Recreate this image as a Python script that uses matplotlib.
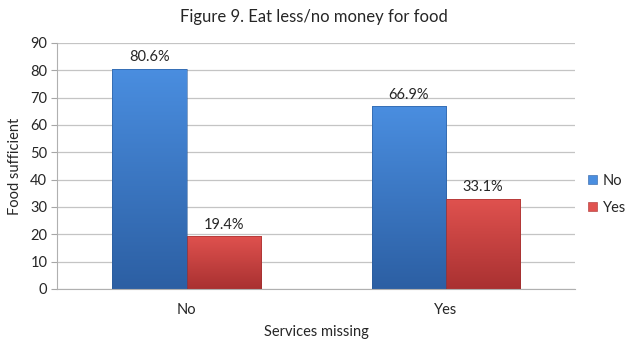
import matplotlib.pyplot as plt
import numpy as np
from matplotlib.colors import LinearSegmentedColormap
from matplotlib.patches import Patch

plt.rcParams["font.family"] = ["Lato", "DejaVu Sans"]

categories = ["No", "Yes"]
series_names = ["No", "Yes"]
no_values = [80.6, 66.9]
yes_values = [19.4, 33.1]

TEXT = "#262626"
colors = {"No": ("#4a8ee0", "#2c5fa3"), "Yes": ("#e0524f", "#a93131")}


def gradient_bars(ax, bars, top, bottom):
    cmap = LinearSegmentedColormap.from_list("g", [bottom, top])
    grad = np.linspace(0, 1, 256).reshape(-1, 1)
    for bar in bars:
        x, y = bar.get_x(), bar.get_y()
        w, h = bar.get_width(), bar.get_height()
        bar.set_facecolor("none")
        im = ax.imshow(grad, cmap=cmap, aspect="auto", origin="lower",
                       extent=(x, x + w, y, y + h), zorder=2)
        im.set_clip_path(bar)


fig = plt.figure(figsize=(6.28, 3.41), dpi=100)
ax = fig.add_axes([0.0908, 0.1525, 0.825, 0.7215])

x = np.arange(len(categories))
width = 0.286
bars_no = ax.bar(x - width / 2, no_values, width, zorder=3,
                 edgecolor="#2a5a98", linewidth=0.4, label="No")
bars_yes = ax.bar(x + width / 2, yes_values, width, zorder=3,
                  edgecolor="#9c2e2e", linewidth=0.4, label="Yes")
gradient_bars(ax, bars_no, *colors["No"])
gradient_bars(ax, bars_yes, *colors["Yes"])

for bars, vals in ((bars_no, no_values), (bars_yes, yes_values)):
    ax.bar_label(bars, labels=[f"{v:.1f}%" for v in vals], padding=3,
                 fontsize=10.5, color=TEXT)

ax.set_xlim(-0.5, 1.5)
ax.set_ylim(0, 90)
ax.set_yticks(range(0, 91, 10))
ax.set_xticks(x)
ax.set_xticklabels(categories)
ax.tick_params(axis="y", length=4, color="#a6a6a6", labelsize=10.5,
               labelcolor=TEXT, pad=3)
ax.tick_params(axis="x", length=0, labelsize=10.5, labelcolor=TEXT, pad=10)
ax.grid(axis="y", color="#c4c4c4", linewidth=0.9, zorder=0)
ax.set_axisbelow(True)
for side in ("top", "right"):
    ax.spines[side].set_visible(False)
ax.spines["left"].set_color("#b0b0b0")
ax.spines["bottom"].set_color("#b0b0b0")

ax.set_ylabel("Food sufficient", fontsize=10.5, color=TEXT, labelpad=6)
ax.set_xlabel("Services missing", fontsize=10.5, color=TEXT, labelpad=6)
fig.suptitle("Figure 9. Eat less/no money for food", fontsize=12,
             color=TEXT, y=0.975)

handles = [Patch(facecolor=colors[s][0], edgecolor=colors[s][1], linewidth=0.4)
           for s in series_names]
fig.legend(handles, series_names, loc="center left",
           bbox_to_anchor=(0.937, 0.43), frameon=False, fontsize=10.5,
           borderpad=0, borderaxespad=0,
           handlelength=0.6, handleheight=0.6, handletextpad=0.4,
           labelspacing=0.9, labelcolor=TEXT)

fig.savefig("out.png", dpi=100)
